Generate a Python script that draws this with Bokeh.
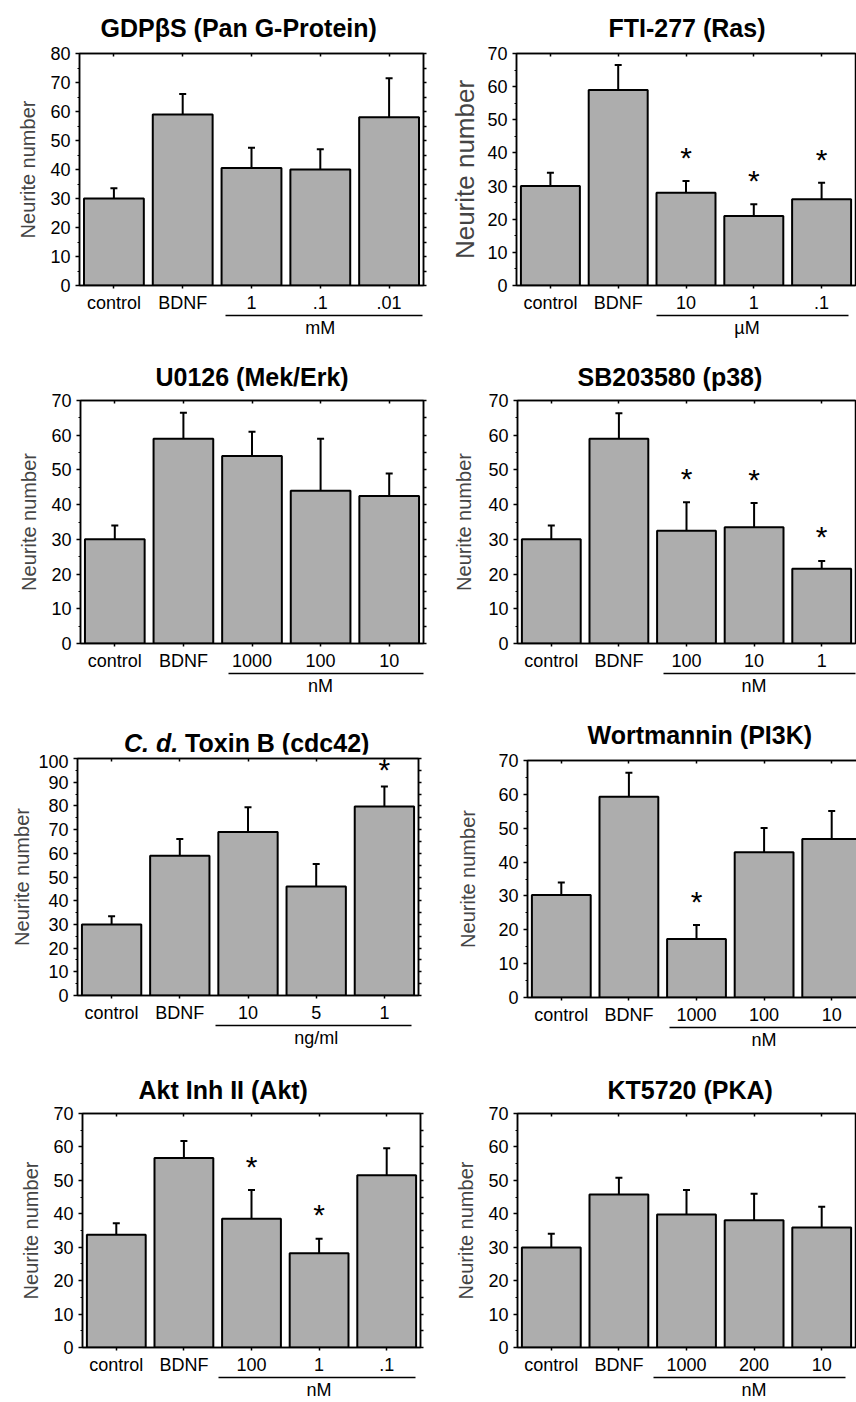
from bokeh.plotting import figure
from bokeh.layouts import row, column
from bokeh.models import (ColumnDataSource, Range1d, LinearAxis, CustomJSTickFormatter, Div,
                          SingleIntervalTicker, FixedTicker, Whisker, TeeHead)
from bokeh.embed import file_html
from bokeh.resources import INLINE
from bokeh.core.properties import value

FONT = "Liberation Sans"
BAR = "#adadad"
YLABEL = "Neurite number"

# ---------------- data ----------------
gdp_title = "GDPβS (Pan G-Protein)"
gdp_cats = ["control", "BDNF", "1", ".1", ".01"]
gdp_mean = [30, 59, 40.5, 40, 58]
gdp_sem = [3.5, 7, 7, 7, 13.5]
gdp_sig = [False, False, False, False, False]
gdp_unit = "mM"

fti_title = "FTI-277 (Ras)"
fti_cats = ["control", "BDNF", "10", "1", ".1"]
fti_mean = [30, 59, 28, 21, 26]
fti_sem = [4, 7.5, 3.5, 3.5, 5]
fti_sig = [False, False, True, True, True]
fti_unit = "µM"

u0_title = "U0126 (Mek/Erk)"
u0_cats = ["control", "BDNF", "1000", "100", "10"]
u0_mean = [30, 59, 54, 44, 42.5]
u0_sem = [4, 7.5, 7, 15, 6.5]
u0_sig = [False, False, False, False, False]
u0_unit = "nM"

sb_title = "SB203580 (p38)"
sb_cats = ["control", "BDNF", "100", "10", "1"]
sb_mean = [30, 59, 32.5, 33.5, 21.5]
sb_sem = [4, 7.3, 8.2, 7, 2.3]
sb_sig = [False, False, True, True, True]
sb_unit = "nM"

tox_title_italic = "C. d."
tox_title_rest = "Toxin B (cdc42)"
tox_cats = ["control", "BDNF", "10", "5", "1"]
tox_mean = [30, 59, 69, 46, 79.7]
tox_sem = [3.4, 7, 10.4, 9.5, 8.5]
tox_sig = [False, False, False, False, True]
tox_unit = "ng/ml"

wort_title = "Wortmannin (PI3K)"
wort_cats = ["control", "BDNF", "1000", "100", "10"]
wort_mean = [30.3, 59.3, 17.3, 42.9, 46.8]
wort_sem = [3.7, 7.1, 4.1, 7.2, 8.3]
wort_sig = [False, False, True, False, False]
wort_unit = "nM"

akt_title = "Akt Inh II (Akt)"
akt_cats = ["control", "BDNF", "100", "1", ".1"]
akt_mean = [33.7, 56.7, 38.5, 28.2, 51.5]
akt_sem = [3.5, 5.1, 8.6, 4.3, 8.1]
akt_sig = [False, False, True, True, False]
akt_unit = "nM"

kt_title = "KT5720 (PKA)"
kt_cats = ["control", "BDNF", "1000", "200", "10"]
kt_mean = [29.9, 45.8, 39.8, 38.1, 35.9]
kt_sem = [4.1, 5, 7.3, 7.9, 6.2]
kt_sig = [False, False, False, False, False]
kt_unit = "nM"


def make_panel(title, cats, mean, sem, sig, unit, ymax, w, h, L, R, T, B,
               title_left, title_standoff, ylab_size, ylab_standoff,
               line_x0, line_x1, unit_x=3.5, right_axis=True):
    fh = h - T - B
    u = ymax / fh  # data units per pixel
    n = len(cats)
    pos = [i + 0.5 for i in range(n)]  # slot centres of the categories
    p = figure(width=w, height=h,
               x_range=Range1d(0, n), y_range=Range1d(0, ymax),
               output_backend="svg", toolbar_location=None,
               min_border_left=L, min_border_right=R,
               min_border_top=T, min_border_bottom=B)
    p.xgrid.visible = False
    p.ygrid.visible = False
    p.outline_line_color = "black"
    p.outline_line_width = 1.5
    p.background_fill_color = "white"
    p.border_fill_color = "white"

    upper = [m + s for m, s in zip(mean, sem)]
    src = ColumnDataSource(dict(x=pos, cats=cats, mean=mean, upper=upper))
    p.vbar(x="x", top="mean", bottom=0, width=0.87, source=src,
           fill_color=BAR, line_color="black", line_width=2)
    p.add_layout(Whisker(source=src, base="x", lower="mean", upper="upper",
                         dimension="height", line_color="black", line_width=2,
                         upper_head=TeeHead(size=7, line_width=2, line_color="black"),
                         lower_head=None, level="overlay"))

    # asterisks above significant bars
    sx, sy = [], []
    for x, up, s in zip(pos, upper, sig):
        if s:
            centre = min(up + 27 * u, ymax - 8 * u)
            sx.append(x)
            sy.append(centre - 3 * u)
    if sx:
        p.text(x=sx, y=sy, text=["*"] * len(sx), text_align="center",
               text_baseline="alphabetic", text_font=value(FONT),
               text_font_size="30px", text_color="black")

    # left axis
    ya = p.yaxis[0]
    ya.ticker = SingleIntervalTicker(interval=10, num_minor_ticks=2)
    ya.axis_label = YLABEL
    ya.axis_label_text_font = FONT
    ya.axis_label_text_font_style = "normal"
    ya.axis_label_text_font_size = ylab_size
    ya.axis_label_standoff = int(round(ylab_standoff))
    ya.major_label_text_font = FONT
    ya.major_label_text_font_size = "18px"
    ya.major_label_text_color = "black"
    ya.major_tick_out = 4
    ya.major_tick_in = 0
    ya.minor_tick_out = 2
    ya.minor_tick_in = 0
    ya.axis_line_width = 1.5
    ya.major_tick_line_width = 1.5
    ya.minor_tick_line_width = 1

    # bottom (category) axis
    xa = p.xaxis[0]
    xa.ticker = FixedTicker(ticks=pos, minor_ticks=[])
    xa.formatter = CustomJSTickFormatter(args=dict(cats=cats),
                                         code="return cats[Math.round(tick - 0.5)];")
    xa.major_label_text_font = FONT
    xa.major_label_text_font_size = "18px"
    xa.major_label_text_color = "black"
    xa.major_label_standoff = 4
    xa.major_tick_out = 3
    xa.major_tick_in = 0
    xa.minor_tick_out = 0
    xa.minor_tick_in = 0
    xa.axis_line_width = 1.5
    xa.major_tick_line_width = 1.5

    # concentration bracket + unit: a second, bounded axis below the categories
    ua = LinearAxis(ticker=FixedTicker(ticks=[unit_x], minor_ticks=[]), bounds=(line_x0, line_x1),
                    formatter=CustomJSTickFormatter(args=dict(unit=unit), code="return unit;"),
                    major_label_text_font=FONT, major_label_text_font_size="18px",
                    major_label_text_color="black", major_label_standoff=2,
                    major_tick_out=0, major_tick_in=0, minor_tick_out=0, minor_tick_in=0,
                    axis_line_width=1.5)
    p.add_layout(ua, "below")

    # mirrored ticks on top (category centres) and right
    ta = LinearAxis(ticker=FixedTicker(ticks=[], minor_ticks=pos),
                    major_label_standoff=0, major_tick_out=0, major_tick_in=0,
                    minor_tick_in=3, minor_tick_out=0, minor_tick_line_width=1.5,
                    axis_line_width=1.5)
    p.add_layout(ta, "above")
    if right_axis:
        rticks = list(range(0, ymax + 1, 5))
        ra = LinearAxis(ticker=FixedTicker(ticks=[], minor_ticks=rticks),
                        major_label_standoff=0, major_tick_out=0, major_tick_in=0,
                        minor_tick_out=3, minor_tick_in=0, minor_tick_line_width=1.5,
                        axis_line_width=1.5)
        p.add_layout(ra, "right")

    # title
    if title is not None:
        p.title.text = title
        p.title.align = "left"
        p.title.offset = title_left
        p.title.standoff = title_standoff
        p.title.text_font = FONT
        p.title.text_font_style = "bold"
        p.title.text_font_size = "25px"
        p.title.text_color = "black"
    return p


# row 1: top 0..345, frames 49..285
p1 = make_panel(gdp_title, gdp_cats, gdp_mean, gdp_sem, gdp_sig, gdp_unit, 80,
                432, 345, 79, 9, 49, 60, 21, 23, "20px", 8.5, 2.12, 4.99)
p2 = make_panel(fti_title, fti_cats, fti_mean, fti_sem, fti_sig, fti_unit, 70,
                424, 345, 84, 1, 49, 60, 92, 23, "26px", 4.5, 2.07, 4.9, unit_x=3.4,
                right_axis=False)
# row 2: 345..698, frames 400..644
p3 = make_panel(u0_title, u0_cats, u0_mean, u0_sem, u0_sig, u0_unit, 70,
                432, 353, 80, 9, 55, 54, 75, 19, "20px", 8, 2.16, 5.0)
p4 = make_panel(sb_title, sb_cats, sb_mean, sb_sem, sb_sig, sb_unit, 70,
                424, 353, 85, 1, 55, 54, 60, 19, "20px", 10, 2.16, 5.0,
                right_axis=False)
# row 3: 698..1052, frames 760..997
tox_head = Div(
    text=('<div style="margin:0;padding:0;position:relative;top:26px;left:119px;'
          'font-family:\'Liberation Sans\';font-size:25px;font-weight:bold;'
          'line-height:29px;white-space:nowrap;color:black;">'
          '<i>' + tox_title_italic + '</i> ' + tox_title_rest + '</div>'),
    width=432, height=46)
p5 = make_panel(None, tox_cats, tox_mean, tox_sem, tox_sig, tox_unit, 100,
                432, 296, 77, 14, 4, 55, 0, 0, "20px", 1.5, 2.02, 4.9)
p6 = make_panel(wort_title, wort_cats, wort_mean, wort_sem, wort_sig, wort_unit, 70,
                424, 354, 85, 1, 62, 55, 60, 24, "20px", 16.5, 2.1, 4.97,
                right_axis=False)
# row 4: 1052..1402, frames 1113..1347
p7 = make_panel(akt_title, akt_cats, akt_mean, akt_sem, akt_sig, akt_unit, 70,
                432, 350, 82, 12, 61, 55, 56, 19, "20px", 8, 2.01, 4.93)
p8 = make_panel(kt_title, kt_cats, kt_mean, kt_sem, kt_sig, kt_unit, 70,
                424, 350, 85, 1, 61, 55, 90, 19, "20px", 8, 2.01, 4.85,
                right_axis=False)

layout = column(row(p1, p2), row(p3, p4), row(column(tox_head, p5), p6), row(p7, p8))

open("out.html", "w").write(file_html(layout, INLINE))
